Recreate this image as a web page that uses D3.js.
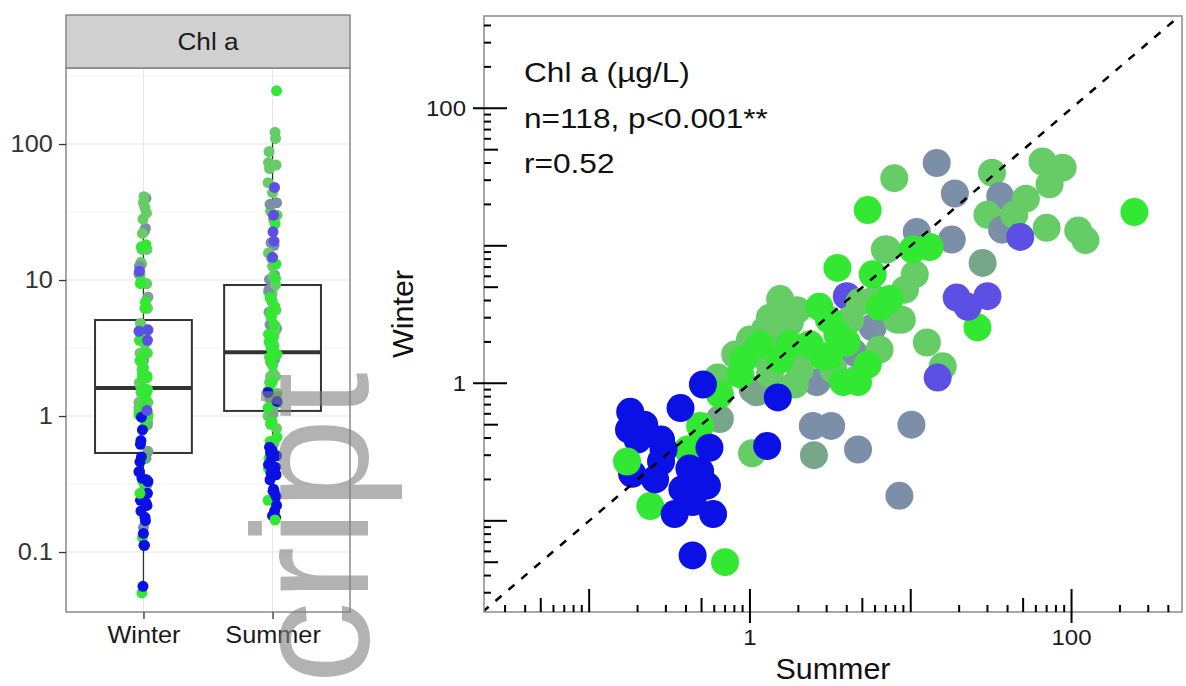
<!DOCTYPE html>
<html>
<head>
<meta charset="utf-8">
<script src="https://cdn.jsdelivr.net/npm/d3@7"></script>
<style>
  body { margin: 0; background: #fff; }
  svg { display: block; }
  text { font-family: "Liberation Sans", Arial, sans-serif; }
</style>
</head>
<body>
<svg id="chart" width="1186" height="686"></svg>
<script>
// ---- data ----
const seasons = ["Winter", "Summer"];

// paired Chl a values (ug/L), one entry per site
const summer = [
  0.63, 0.65, 1.1, 1.03, 6.9, 4.0, 4.8, 1.96, 1.33, 1.77,
  5.8, 8.2, 1.0, 1.47, 4.4, 1.28, 1.96, 4.6, 2.6, 3.3,
  2.05, 1.04, 0.65, 7.9, 14.5, 18.8, 32, 36, 66, 88,
  73, 52, 30, 37, 70, 110, 122, 10.9, 18, 28,
  8.8, 12.6, 7.1, 2.46, 3.2, 2.5, 4.7, 10.1, 8.5, 15.8,
  1.54, 1.24, 0.81, 6.0, 9.2, 4.2, 6.4, 1.33, 1.9, 10.6,
  44,
  0.91, 5.4, 3.5, 5.8, 7.4, 2.7, 3.5, 4.0, 1.15, 2.84,
  246, 13.1, 10.3, 26, 6.4, 4.7, 3.8, 3.1, 2.36, 1.77,
  3.1, 5.4, 0.87, 0.65, 1.54, 0.49, 0.41, 0.24, 0.70,
  0.51, 0.37, 0.18, 0.177, 0.20, 0.28, 0.29, 0.28, 0.185, 0.56,
  0.49, 0.38, 0.54, 0.34, 0.59, 0.44, 0.44, 1.49, 1.28, 0.22,
  0.257, 0.42,
  0.172,
  48, 19.3, 30, 22.6, 14.7
];
const winter = [
  1.1, 0.55, 0.86, 0.31, 9.4, 4.3, 3.9, 3.4, 3.0, 2.77,
  2.55, 2.9, 2.08, 2.19, 1.68, 1.49, 1.68, 1.07, 1.02, 1.26,
  1.26, 0.9, 1.07, 31, 40, 24, 34, 23, 41, 37,
  28, 22, 16.8, 13.1, 13.5, 12.9, 11.0, 12.6, 11.1, 7.5,
  2.9, 1.98, 9.4, 0.49, 0.49, 0.30, 0.33, 0.50, 0.152, 1.33,
  4.1, 2.46, 1.62, 4.1, 4.8, 2.9, 1.76, 1.16, 0.98, 6.2,
  16.8,
  1.49, 18.2, 6.9, 6.2, 4.1, 3.6, 2.27, 1.98, 1.92, 1.57,
  17.6, 9.8, 9.4, 2.55, 3.6, 1.02, 1.02, 1.57, 1.92, 1.92,
  2.9, 1.37, 1.16, 0.83, 1.49, 0.49, 0.33, 0.128, 0.05,
  0.98, 0.66, 0.62, 0.46, 0.39, 0.39, 0.33, 0.27, 0.22, 0.34,
  0.23, 0.17, 0.18, 0.112, 0.112, 0.137, 0.056, 0.79, 0.35, 0.50,
  0.20, 0.24,
  0.27,
  11.6, 4.2, 4.3, 3.6, 1.1
];
const group = [
  "M", "T", "T", "M", "M", "S", "M", "M", "M", "M",
  "A", "M", "M", "M", "A", "M", "M", "M", "A", "M",
  "M", "T", "M", "M", "A", "A", "M", "A", "M", "M",
  "M", "M", "M", "A", "M", "M", "M", "A", "A", "T",
  "M", "M", "M", "A", "A", "T", "A", "A", "A", "M",
  "M", "M", "M", "M", "M", "M", "M", "M", "M", "M",
  "M",
  "G", "G", "G", "G", "G", "G", "G", "G", "G", "G",
  "G", "G", "G", "G", "G", "G", "G", "G", "G", "G",
  "G", "G", "G", "G", "G", "G", "G", "G", "G",
  "B", "B", "B", "B", "B", "B", "B", "B", "B", "B",
  "B", "B", "B", "B", "B", "B", "B", "B", "B", "B",
  "B", "B",
  "G",
  "S", "S", "S", "S", "S"
];
const groupColors = {
  B: "#0b10e4", G: "#33e833", M: "#66cc66",
  A: "#7c8fa8", S: "#5b4fe4", T: "#78a68a"
};

// box statistics: [lower whisker, Q1, median, Q3, upper whisker]
const boxStats = {
  Winter: [0.05, 0.535, 1.61, 5.08, 41],
  Summer: [0.172, 1.09, 2.95, 9.19, 122]
};

const boxTicks = [0.1, 1, 10, 100];
const boxMinorBreaks = [0.316, 3.16, 31.6, 316];
const scatterLabels = [1, 100];
const annotation = ["Chl a (\u00b5g/L)", "n=118, p<0.001**", "r=0.52"];

const svg = d3.select("#chart");
const font = "Liberation Sans, Arial, sans-serif";

// the original lettering is a little wider than Arial, so stretch it sideways
function placeText(sel, x, y, k, rot) {
  return sel.attr("transform", `translate(${x},${y})${rot ? ` rotate(${rot})` : ""} scale(${k},1)`);
}

// ---------------- left panel: box plot ----------------
const bp = {left: 66, right: 350, top: 68, bottom: 612, stripTop: 15};
const yBox = d3.scaleLog().domain([10 ** -1.441, 10 ** 2.559]).range([bp.bottom, bp.top]);
const xBox = d3.scalePoint().domain(seasons).range([bp.left, bp.right]).padding(0.6);

const left = svg.append("g");

// grid
left.selectAll(".minor").data(boxMinorBreaks.filter(d => yBox(d) > bp.top)).join("line")
  .attr("x1", bp.left).attr("x2", bp.right)
  .attr("y1", d => yBox(d)).attr("y2", d => yBox(d))
  .attr("stroke", "#f2f2f2").attr("stroke-width", 1);
left.selectAll(".major").data(boxTicks).join("line")
  .attr("x1", bp.left).attr("x2", bp.right)
  .attr("y1", d => yBox(d)).attr("y2", d => yBox(d))
  .attr("stroke", "#e6e6e6").attr("stroke-width", 1.2);
left.selectAll(".vgrid").data(seasons).join("line")
  .attr("x1", d => xBox(d)).attr("x2", d => xBox(d))
  .attr("y1", bp.top).attr("y2", bp.bottom)
  .attr("stroke", "#e6e6e6").attr("stroke-width", 1.2);

// boxes
const boxW = xBox.step() * 0.75;
seasons.forEach(s => {
  const [lo, q1, med, q3, hi] = boxStats[s];
  const cx = xBox(s);
  const g = left.append("g");
  g.append("line").attr("x1", cx).attr("x2", cx).attr("y1", yBox(lo)).attr("y2", yBox(q1))
    .attr("stroke", "#333").attr("stroke-width", 1.3);
  g.append("line").attr("x1", cx).attr("x2", cx).attr("y1", yBox(q3)).attr("y2", yBox(hi))
    .attr("stroke", "#333").attr("stroke-width", 1.3);
  g.append("rect").attr("x", cx - boxW / 2).attr("width", boxW)
    .attr("y", yBox(q3)).attr("height", yBox(q1) - yBox(q3))
    .attr("fill", "#fff").attr("stroke", "#333").attr("stroke-width", 2);
  g.append("line").attr("x1", cx - boxW / 2).attr("x2", cx + boxW / 2)
    .attr("y1", yBox(med)).attr("y2", yBox(med))
    .attr("stroke", "#333").attr("stroke-width", 4);
  // outliers
  const vals = s === "Winter" ? winter : summer;
  g.selectAll("circle").data(vals.filter(v => v > hi || v < lo)).join("circle")
    .attr("cx", cx + 4).attr("cy", d => yBox(d)).attr("r", 2.5).attr("fill", "#000");
});

// jittered points (deterministic offsets)
const jitter = i => (((i * 37) % 19) - 9) / 9 * 4.5;
seasons.forEach(s => {
  const vals = s === "Winter" ? winter : summer;
  left.append("g").selectAll("circle").data(vals).join("circle")
    .attr("cx", (d, i) => xBox(s) + jitter(i + (s === "Summer" ? 7 : 0)))
    .attr("cy", d => yBox(d))
    .attr("r", 5.5)
    .attr("fill", (d, i) => groupColors[group[i]]);
});

// panel border + strip
left.append("rect").attr("x", bp.left).attr("y", bp.top)
  .attr("width", bp.right - bp.left).attr("height", bp.bottom - bp.top)
  .attr("fill", "none").attr("stroke", "#808080").attr("stroke-width", 1.4);
left.append("rect").attr("x", bp.left).attr("y", bp.stripTop)
  .attr("width", bp.right - bp.left).attr("height", bp.top - bp.stripTop)
  .attr("fill", "#d0d0d0").attr("stroke", "#808080").attr("stroke-width", 1.4);
placeText(left.append("text"), (bp.left + bp.right) / 2, (bp.stripTop + bp.top) / 2, 1.09)
  .attr("text-anchor", "middle").attr("dy", "0.35em")
  .attr("font-size", 24).attr("fill", "#1a1a1a").text("Chl a");

// axes
const yAxisBox = left.append("g").attr("transform", `translate(${bp.left},0)`)
  .call(d3.axisLeft(yBox).tickValues(boxTicks).tickFormat(d3.format("~g")).tickSize(7).tickPadding(5));
yAxisBox.select(".domain").remove();
yAxisBox.selectAll("line").attr("stroke", "#333").attr("stroke-width", 1.3);
yAxisBox.selectAll("text").attr("font-size", 23).attr("font-family", font).attr("fill", "#333")
  .attr("transform", "scale(1.1,1)");

const xAxisBox = left.append("g").attr("transform", `translate(0,${bp.bottom})`)
  .call(d3.axisBottom(xBox).tickSize(7).tickPadding(8));
xAxisBox.select(".domain").remove();
xAxisBox.selectAll("line").attr("stroke", "#333").attr("stroke-width", 1.3);
xAxisBox.selectAll("text").attr("font-size", 23).attr("font-family", font).attr("fill", "#1a1a1a")
  .attr("transform", "scale(1.1,1)");

// ---------------- right panel: scatter ----------------
const sp = {left: 484, right: 1182, top: 16, bottom: 612};
const xSc = d3.scaleLog().domain([10 ** -1.654, 10 ** 2.687]).range([sp.left, sp.right]);
const ySc = d3.scaleLog().domain([10 ** -1.663, 10 ** 2.671]).range([sp.bottom, sp.top]);

const right = svg.append("g");
right.append("clipPath").attr("id", "clip").append("rect")
  .attr("x", sp.left).attr("y", sp.top)
  .attr("width", sp.right - sp.left).attr("height", sp.bottom - sp.top);

const pts = d3.range(summer.length);
right.append("g").attr("clip-path", "url(#clip)")
  .selectAll("circle").data(pts).join("circle")
  .attr("cx", i => xSc(summer[i]))
  .attr("cy", i => ySc(winter[i]))
  .attr("r", 14)
  .attr("fill", i => groupColors[group[i]]);

// 1:1 line
const lo = Math.min(xSc.domain()[0], ySc.domain()[0]);
const hi = Math.max(xSc.domain()[1], ySc.domain()[1]);
right.append("line").attr("clip-path", "url(#clip)")
  .attr("x1", xSc(lo)).attr("y1", ySc(lo)).attr("x2", xSc(hi)).attr("y2", ySc(hi))
  .attr("stroke", "#000").attr("stroke-width", 2.5).attr("stroke-dasharray", "8,9");

right.append("rect").attr("x", sp.left).attr("y", sp.top)
  .attr("width", sp.right - sp.left).attr("height", sp.bottom - sp.top)
  .attr("fill", "none").attr("stroke", "#8a8a8a").attr("stroke-width", 1.5);

// log ticks drawn inward
function logTicks(scale) {
  const [d0, d1] = scale.domain();
  const out = [];
  for (let k = Math.floor(Math.log10(d0)); k <= Math.ceil(Math.log10(d1)); k++) {
    for (let m = 1; m <= 9; m++) {
      const v = m * 10 ** k;
      if (v >= d0 && v <= d1) out.push({v, m});
    }
  }
  return out;
}
const tickLen = t => t.m === 1 ? 23 : (t.m === 5 ? 14 : 7);
const labelled = t => t.m === 1 && scatterLabels.some(l => Math.abs(l - t.v) < 1e-9);

right.append("g").selectAll("line").data(logTicks(ySc)).join("line")
  .attr("x1", t => labelled(t) ? sp.left - 11 : sp.left)
  .attr("x2", t => sp.left + tickLen(t))
  .attr("y1", t => ySc(t.v)).attr("y2", t => ySc(t.v))
  .attr("stroke", "#000").attr("stroke-width", 2);
right.append("g").selectAll("line").data(logTicks(xSc)).join("line")
  .attr("y1", t => labelled(t) ? sp.bottom + 11 : sp.bottom)
  .attr("y2", t => sp.bottom - tickLen(t))
  .attr("x1", t => xSc(t.v)).attr("x2", t => xSc(t.v))
  .attr("stroke", "#000").attr("stroke-width", 2);

right.append("g").selectAll("text").data(scatterLabels).join("text")
  .each(function (d) { placeText(d3.select(this), sp.left - 18, ySc(d), 1.09); })
  .attr("dy", "0.35em")
  .attr("text-anchor", "end").attr("font-size", 22).attr("fill", "#1a1a1a")
  .text(d3.format("~g"));
right.append("g").selectAll("text").data(scatterLabels).join("text")
  .each(function (d) { placeText(d3.select(this), xSc(d), 645, 1.09); })
  .attr("text-anchor", "middle").attr("font-size", 22).attr("fill", "#1a1a1a")
  .text(d3.format("~g"));

placeText(right.append("text"), (sp.left + sp.right) / 2, 679, 1.05)
  .attr("text-anchor", "middle").attr("font-size", 29).attr("fill", "#111").text("Summer");
placeText(right.append("text"), 413, (sp.top + sp.bottom) / 2, 1.05, -90)
  .attr("text-anchor", "middle").attr("font-size", 29).attr("fill", "#111").text("Winter");

right.append("g").selectAll("text").data(annotation).join("text")
  .each(function (d, i) { placeText(d3.select(this), 524, 82 + i * 45.5, 1.13); })
  .attr("font-size", 28).attr("fill", "#111").text(d => d);

// watermark fragment
svg.append("text")
  .attr("transform", "translate(368,684) rotate(-90)")
  .attr("font-size", 165).attr("fill", "#808080").attr("opacity", 0.6)
  .text("cript");
</script>
</body>
</html>
